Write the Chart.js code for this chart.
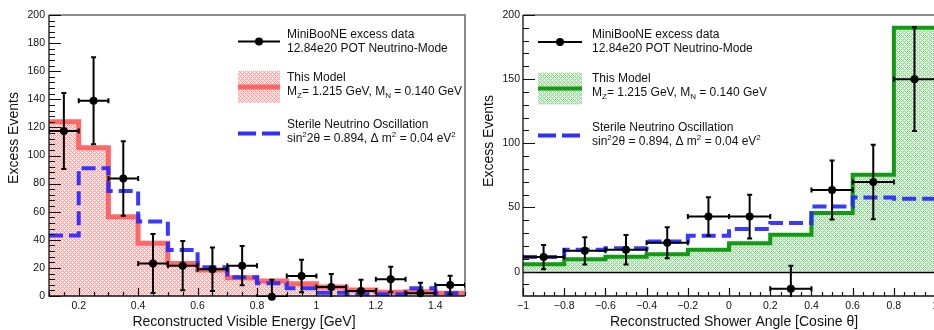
<!DOCTYPE html>
<html>
<head>
<meta charset="utf-8">
<script src="https://cdn.jsdelivr.net/npm/chart.js@4.4.1/dist/chart.umd.min.js"></script>
<style>
html, body { margin:0; padding:0; width:934px; height:330px; overflow:hidden; background:#fff; }
#left { position:absolute; left:0; top:0; width:470px; height:330px; }
#right { position:absolute; left:470px; top:0; width:472px; height:330px; }
</style>
</head>
<body>
<div id="left"><canvas id="energyChart"></canvas></div>
<div id="right"><canvas id="angleChart"></canvas></div>
<script>
// ---- data: left panel (visible energy, GeV) ----
const energyEdges = [0.1, 0.2, 0.3, 0.4, 0.5, 0.6, 0.7, 0.8, 0.9, 1.0, 1.1, 1.2, 1.3, 1.4, 1.5];
const energyData = [117.4, 139, 83.7, 23.2, 21.6, 19, 21.6, -0.5, 14.2, 6.4, 3.6, 11.9, 1.9, 7.8];
const energyErr = [27, 31, 26.5, 21, 17.5, 15.5, 14, 12, 11.6, 9.3, 8, 9, 7.5, 6.6];
const energyModel = [124, 105.5, 56.4, 37.5, 23.2, 18.5, 13, 10.7, 8.8, 6.4, 4.3, 2.6, 3, 2];
const energySterile = [43, 91, 74.7, 53, 32.7, 20.4, 13.3, 9, 5.5, 2.4, 1.2, 1.2, 5.5, 2];
const energyXTicks = [0.2, 0.4, 0.6, 0.8, 1, 1.2, 1.4];
const energyYTicks = [0, 20, 40, 60, 80, 100, 120, 140, 160, 180, 200];

// ---- data: right panel (shower angle, cos theta) ----
const angleEdges = [-1, -0.8, -0.6, -0.4, -0.2, 0, 0.2, 0.4, 0.6, 0.8, 1.0];
const angleData = [11.3, 16.2, 17, 22.5, 42.9, 42.9, -13.4, 63.7, 69.8, 150];
const angleErr = [9.5, 10.6, 11.5, 12, 15, 17, 18, 23, 29, 40.5];
const angleModel = [5.8, 9.7, 11.5, 13.6, 17, 22.2, 28.7, 45.6, 75.4, 190];
const angleSterile = [11.3, 17, 18.3, 23.4, 27.9, 33.3, 37.8, 50.7, 57.7, 56.7];
const angleXTicks = [-1, -0.8, -0.6, -0.4, -0.2, 0, 0.2, 0.4, 0.6, 0.8, 1];
const angleYTicks = [0, 50, 100, 150, 200];

const FONT = '"Liberation Sans", Arial, Helvetica, sans-serif';

function histPoints(edges, vals) {
	const pts = vals.map((v, i) => ({x: edges[i], y: v}));
	pts.push({x: edges[edges.length - 1], y: vals[vals.length - 1]});
	return pts;
}
function centerPoints(edges, vals) {
	return vals.map((v, i) => ({x: (edges[i] + edges[i + 1]) / 2, y: v}));
}
function fmt(v) {
	const s = String(Math.round(v * 100) / 100);
	return s.replace('-', '\u2212');
}
function hatch(bg, fg) {
	const c = document.createElement('canvas');
	c.width = 4; c.height = 4;
	const g = c.getContext('2d');
	g.fillStyle = bg; g.fillRect(0, 0, 4, 4);
	g.fillStyle = fg;
	[[0,0],[1,1],[2,2],[3,3],[3,1],[1,3]].forEach(([i, j]) => g.fillRect(i, j, 1, 1));
	return g.createPattern(c, 'repeat');
}
const redHatch = hatch('#ffe4e4', '#ff9c9c');
const greenHatch = hatch('#e0f3e0', '#8ed18e');

function richText(ctx, parts, x, y) {
	for (const [t, k] of parts) {
		ctx.font = (k ? '8px ' : '12px ') + FONT;
		const dy = k === 'sub' ? 4 : (k === 'sup' ? -4 : 0);
		ctx.fillText(t, x, y + dy);
		x += ctx.measureText(t).width;
	}
}

// axes drawn ROOT style: ticks inside, grey frame top/right
const rootAxes = {
	id: 'rootAxes',
	afterDatasetsDraw(chart, args, o) {
		const {ctx, chartArea: a, scales: {x, y}} = chart;
		ctx.save();
		if (o.zeroLine) {
			ctx.strokeStyle = '#000'; ctx.lineWidth = 1.5;
			const y0 = Math.round(y.getPixelForValue(0)) + 0.5;
			ctx.beginPath(); ctx.moveTo(a.left, y0); ctx.lineTo(a.right, y0); ctx.stroke();
		}
		ctx.strokeStyle = '#8a8a8a'; ctx.lineWidth = 2;
		ctx.beginPath();
		ctx.moveTo(a.left, a.top); ctx.lineTo(a.right, a.top); ctx.lineTo(a.right, a.bottom);
		ctx.stroke();

		ctx.strokeStyle = '#111'; ctx.lineWidth = 1.3;
		ctx.beginPath();
		ctx.moveTo(a.left, a.top); ctx.lineTo(a.left, a.bottom); ctx.lineTo(a.right, a.bottom);
		ctx.stroke();

		ctx.lineWidth = 1.2;
		ctx.beginPath();
		for (let i = Math.ceil(y.min / o.yMinor - 1e-6); i * o.yMinor <= y.max + 1e-6; i++) {
			const v = i * o.yMinor;
			const major = Math.abs(v / o.yMajor - Math.round(v / o.yMajor)) < 1e-6;
			const py = Math.round(y.getPixelForValue(v)) + 0.5;
			ctx.moveTo(a.left, py); ctx.lineTo(a.left + (major ? 12 : 6), py);
		}
		for (let i = Math.ceil(x.min / o.xMinor - 1e-6); i * o.xMinor <= x.max + 1e-6; i++) {
			const v = i * o.xMinor;
			const major = Math.abs(v / o.xMajor - Math.round(v / o.xMajor)) < 1e-6;
			const px = Math.round(x.getPixelForValue(v)) + 0.5;
			ctx.moveTo(px, a.bottom); ctx.lineTo(px, a.bottom - (major ? 8 : 4));
		}
		ctx.stroke();
		ctx.restore();
	}
};

const errorBars = {
	id: 'errorBars',
	afterDatasetsDraw(chart, args, o) {
		const {ctx, chartArea: a, scales: {x, y}} = chart;
		ctx.save();
		ctx.beginPath();
		ctx.rect(a.left, a.top, a.right - a.left, a.bottom - a.top + 1);
		ctx.clip();
		ctx.strokeStyle = '#000'; ctx.lineWidth = 2;
		o.values.forEach((v, i) => {
			const xl = x.getPixelForValue(o.edges[i]), xr = x.getPixelForValue(o.edges[i + 1]);
			const xc = (xl + xr) / 2;
			const yc = y.getPixelForValue(v);
			const yt = y.getPixelForValue(v + o.errors[i]), yb = y.getPixelForValue(v - o.errors[i]);
			ctx.beginPath();
			ctx.moveTo(xl, yc); ctx.lineTo(xr, yc);
			ctx.moveTo(xc, yt); ctx.lineTo(xc, yb);
			ctx.moveTo(xl, yc - 2.5); ctx.lineTo(xl, yc + 2.5);
			ctx.moveTo(xr, yc - 2.5); ctx.lineTo(xr, yc + 2.5);
			ctx.moveTo(xc - 2.5, yt); ctx.lineTo(xc + 2.5, yt);
			ctx.moveTo(xc - 2.5, yb); ctx.lineTo(xc + 2.5, yb);
			ctx.stroke();
		});
		ctx.restore();
	}
};

// legend + axis titles
const decor = {
	id: 'decor',
	afterDraw(chart, args, o) {
		const {ctx} = chart;
		const L = o.legend;
		ctx.save();
		ctx.textBaseline = 'middle';
		// data entry
		ctx.strokeStyle = '#000'; ctx.lineWidth = 2;
		ctx.beginPath(); ctx.moveTo(L.x0, L.y1); ctx.lineTo(L.x1, L.y1); ctx.stroke();
		ctx.fillStyle = '#000';
		ctx.beginPath(); ctx.arc((L.x0 + L.x1) / 2, L.y1, 4, 0, Math.PI * 2); ctx.fill();
		// model entry
		ctx.fillStyle = o.hatch;
		ctx.fillRect(L.x0, L.y2 - 16, L.x1 - L.x0, 32);
		ctx.strokeStyle = o.modelColor; ctx.lineWidth = o.modelWidth;
		ctx.beginPath(); ctx.moveTo(L.x0, L.y2); ctx.lineTo(L.x1, L.y2); ctx.stroke();
		// sterile entry
		ctx.strokeStyle = '#2f2fff'; ctx.lineWidth = 4; ctx.setLineDash([18, 6]);
		ctx.beginPath(); ctx.moveTo(L.x0, L.y3); ctx.lineTo(L.x1 + 1, L.y3); ctx.stroke();
		ctx.setLineDash([]);

		ctx.fillStyle = '#111';
		const tx = L.tx;
		richText(ctx, [['MiniBooNE excess data']], tx, L.t[0]);
		richText(ctx, [['12.84e20 POT Neutrino-Mode']], tx, L.t[1]);
		richText(ctx, [['This Model']], tx, L.t[2]);
		richText(ctx, [['M'], ['Z', 'sub'], ['= 1.215 GeV, M'], ['N', 'sub'], [' = 0.140 GeV']], tx, L.t[3]);
		richText(ctx, [['Sterile Neutrino Oscillation']], tx, L.t[4]);
		richText(ctx, [['sin'], ['2', 'sup'], ['2\u03b8 = 0.894, \u0394 m'], ['2', 'sup'], [' = 0.04 eV'], ['2', 'sup']], tx, L.t[5]);

		// axis titles
		ctx.font = '14px ' + FONT;
		ctx.textAlign = 'center';
		ctx.fillText(o.xTitle, o.xTitlePos[0], o.xTitlePos[1]);
		ctx.translate(o.yTitlePos[0], o.yTitlePos[1]);
		ctx.rotate(-Math.PI / 2);
		ctx.fillText('Excess Events', 0, 0);
		ctx.restore();
	}
};

function makeChart(id, cfg) {
	return new Chart(document.getElementById(id), {
		type: 'line',
		data: {
			datasets: [{
				data: centerPoints(cfg.edges, cfg.values),
				showLine: false,
				pointRadius: 4,
				pointBackgroundColor: '#000',
				pointBorderWidth: 0,
				clip: false
			}, {
				data: histPoints(cfg.edges, cfg.sterile),
				stepped: 'before',
				borderColor: 'rgba(40,40,255,0.92)',
				borderWidth: 4,
				borderDash: [14, 6],
				pointRadius: 0,
				fill: false
			}, {
				data: histPoints(cfg.edges, cfg.model),
				stepped: 'before',
				borderColor: cfg.modelColor,
				borderWidth: cfg.modelWidth,
				backgroundColor: cfg.hatch,
				pointRadius: 0,
				fill: 'origin'
			}]
		},
		options: {
			responsive: true,
			maintainAspectRatio: false,
			animation: false,
			layout: { padding: { left: 0, top: 15, right: cfg.padRight, bottom: 0 }, autoPadding: false },
			plugins: {
				legend: { display: false },
				tooltip: { enabled: false },
				rootAxes: cfg.axes,
				errorBars: { edges: cfg.edges, values: cfg.values, errors: cfg.errors },
				decor: cfg.decor
			},
			scales: {
				x: {
					type: 'linear', min: cfg.xMin, max: cfg.xMax,
					grid: { display: false, drawTicks: false }, border: { display: false },
					afterFit: s => { s.height = 34; },
					afterBuildTicks: s => { s.ticks = cfg.xTicks.map(v => ({value: v})); },
					ticks: { font: { size: 10.5, family: FONT }, color: '#111', padding: 4, maxRotation: 0, autoSkip: false, callback: v => fmt(v) }
				},
				y: {
					type: 'linear', min: cfg.yMin, max: cfg.yMax,
					grid: { display: false, drawTicks: false }, border: { display: false },
					afterFit: s => { s.width = cfg.yWidth; },
					afterBuildTicks: s => { s.ticks = cfg.yTicks.map(v => ({value: v})); },
					ticks: { font: { size: 10.5, family: FONT }, color: '#111', padding: cfg.yPad, autoSkip: false, callback: v => fmt(v) }
				}
			}
		},
		plugins: [rootAxes, errorBars, decor]
	});
}

makeChart('energyChart', {
	edges: energyEdges, values: energyData, errors: energyErr,
	model: energyModel, sterile: energySterile,
	modelColor: 'rgba(255,90,90,0.9)', modelWidth: 5, hatch: redHatch,
	xMin: 0.1, xMax: 1.5, yMin: 0, yMax: 200,
	xTicks: energyXTicks, yTicks: energyYTicks,
	yWidth: 49, yPad: 4, padRight: 5,
	axes: { xMajor: 0.2, xMinor: 0.05, yMajor: 20, yMinor: 4, zeroLine: false },
	decor: {
		legend: { x0: 238, x1: 280, y1: 41.5, y2: 87, y3: 133.5, tx: 287, t: [35, 48.5, 77.5, 92, 125, 138.5] },
		hatch: redHatch, modelColor: 'rgba(255,90,90,0.9)', modelWidth: 5,
		xTitle: 'Reconstructed Visible Energy [GeV]', xTitlePos: [244, 322], yTitlePos: [14, 138]
	}
});

makeChart('angleChart', {
	edges: angleEdges, values: angleData, errors: angleErr,
	model: angleModel, sterile: angleSterile,
	modelColor: '#129a12', modelWidth: 4, hatch: greenHatch,
	xMin: -1, xMax: 1, yMin: -19, yMax: 200,
	xTicks: angleXTicks, yTicks: angleYTicks,
	yWidth: 53, yPad: 3, padRight: 3,
	axes: { xMajor: 0.2, xMinor: 0.05, yMajor: 50, yMinor: 10, zeroLine: true },
	decor: {
		legend: { x0: 68, x1: 112, y1: 42, y2: 88.5, y3: 135.5, tx: 122, t: [34.5, 48.5, 79, 92.5, 127.5, 141.5] },
		hatch: greenHatch, modelColor: '#129a12', modelWidth: 4,
		xTitle: 'Reconstructed Shower Angle [Cosine \u03b8]', xTitlePos: [264, 322], yTitlePos: [19, 141]
	}
});
</script>
</body>
</html>
